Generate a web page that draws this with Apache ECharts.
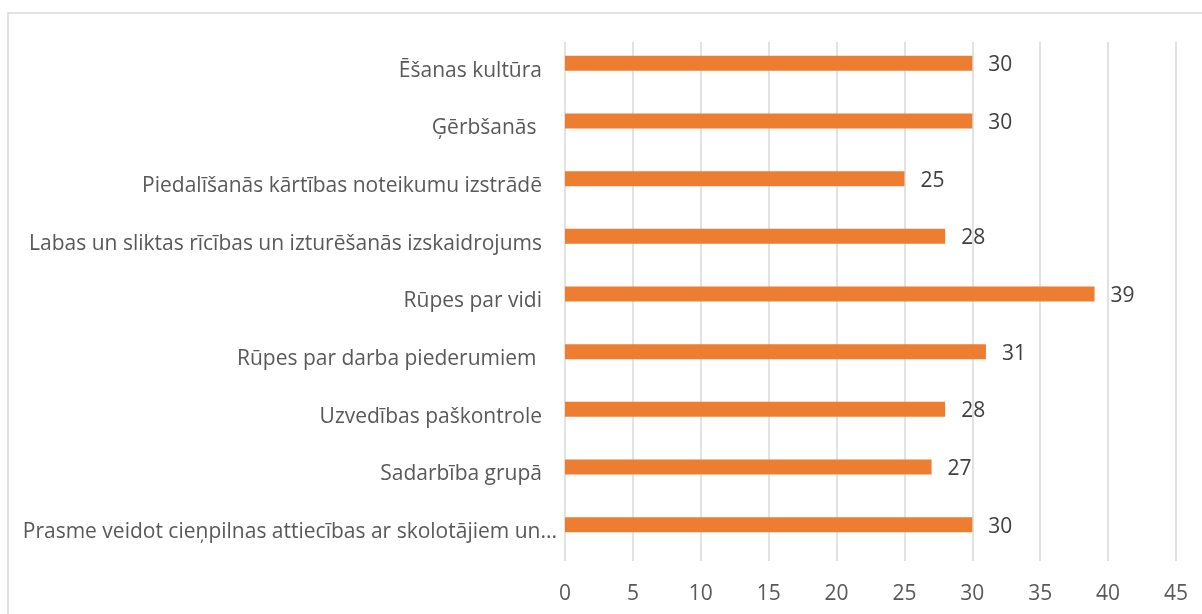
<!DOCTYPE html>
<html>
<head>
<meta charset="utf-8">
<script src="https://cdn.jsdelivr.net/npm/echarts@6/dist/echarts.min.js"></script>
<style>
html,body{margin:0;padding:0;background:#fff;}
#c{width:1202px;height:614px;}
</style>
</head>
<body>
<div id="c"></div>
<script>
const categories = [
  "Ēšanas kultūra",
  "Ģērbšanās ",
  "Piedalīšanās kārtības noteikumu izstrādē",
  "Labas un sliktas rīcības un izturēšanās izskaidrojums",
  "Rūpes par vidi",
  "Rūpes par darba piederumiem ",
  "Uzvedības paškontrole",
  "Sadarbība grupā",
  "Prasme veidot cieņpilnas attiecības ar skolotājiem un..."
];
const values = [30, 30, 25, 28, 39, 31, 28, 27, 30];
const emptySeries = [null, null, null, null, null, null, null, null, null];
const xTicks = { min: 0, max: 45, interval: 5 };

const FONT = '"Open Sans"';
const FS = 21;
const chart = echarts.init(document.getElementById('c'), null, { renderer: 'canvas' });
chart.setOption({
  animation: false,
  backgroundColor: '#ffffff',
  graphic: [{
    type: 'rect',
    shape: { x: 8, y: 13, width: 1400, height: 800 },
    style: { fill: 'none', stroke: '#d9d9d9', lineWidth: 1.5 },
    silent: true, z: -1
  }],
  grid: { left: 565, right: 26, top: 42, bottom: 53, containLabel: false },
  xAxis: {
    type: 'value',
    min: xTicks.min, max: xTicks.max, interval: xTicks.interval,
    axisLine: { show: false },
    axisTick: { show: false },
    splitLine: { show: true, lineStyle: { color: '#d9d9d9', width: 1.5 } },
    axisLabel: { color: '#595959', fontSize: FS, fontFamily: FONT, margin: 23 }
  },
  yAxis: {
    type: 'category',
    data: categories,
    inverse: true,
    axisLine: { show: false },
    axisTick: { show: false },
    splitLine: { show: false },
    axisLabel: {
      margin: 8,
      fontFamily: FONT,
      fontSize: FS,
      color: '#595959',
      formatter: function (v, i) {
        return i === categories.length - 1 ? '{l|' + v + '}' : '{n|' + v + '}';
      },
      rich: {
        l: { fontFamily: FONT, fontSize: FS, color: '#595959', align: 'right' },
        n: { fontFamily: FONT, fontSize: FS, color: '#595959', align: 'right', padding: [0, 15, 0, 0] }
      }
    }
  },
  series: [
    {
      type: 'bar',
      data: values,
      barWidth: 15,
      barGap: '0%',
      itemStyle: { color: '#ED7D31' },
      label: {
        show: true,
        position: 'right',
        distance: 16,
        color: '#404040',
        fontSize: FS,
        fontFamily: FONT,
        offset: [0, 2]
      }
    },
    {
      type: 'bar',
      data: emptySeries,
      barWidth: 15,
      barGap: '0%',
      itemStyle: { color: '#4472C4' }
    }
  ]
});
</script>
</body>
</html>
